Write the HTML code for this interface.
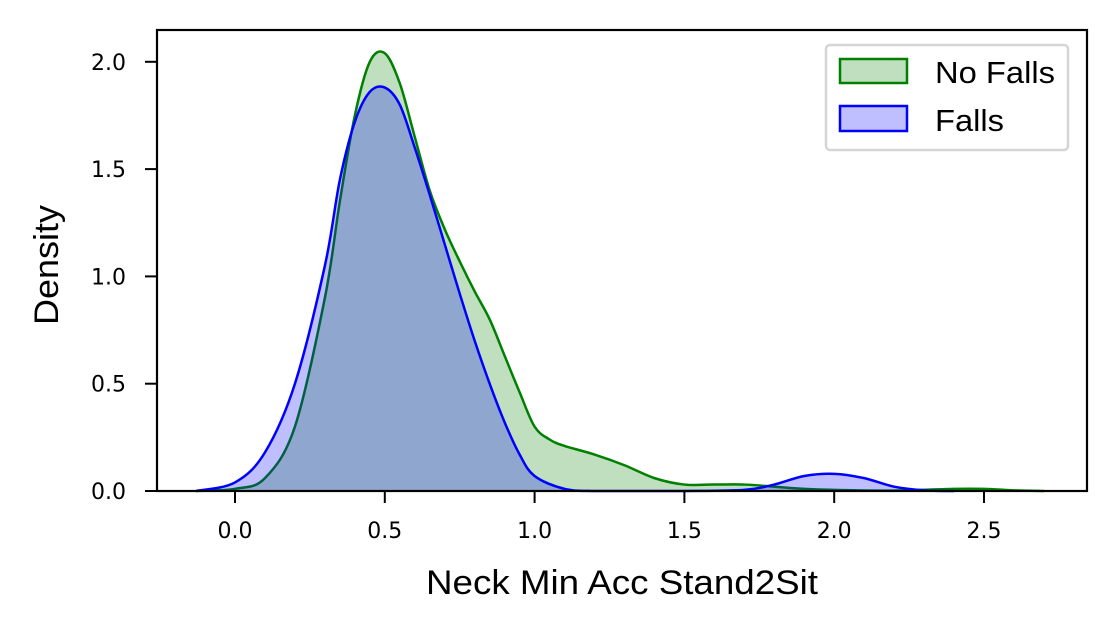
<!DOCTYPE html>
<html><head><meta charset="utf-8"><style>
body{margin:0;background:#fff;}
svg{display:block;font-family:"Liberation Sans",sans-serif;}
.tk{font-family:"DejaVu Sans",sans-serif;}
</style></head><body>
<svg width="1116" height="629" viewBox="0 0 1116 629">
<g id="plot"></g>
<g id="axes"></g>
<g>
<rect x="826" y="45" width="242" height="105" rx="4" fill="#fff" stroke="#d5d5d5" stroke-width="2.5"/>
<rect x="840" y="59" width="67" height="24" fill="rgba(0,128,0,0.25)" stroke="green" stroke-width="2.5"/>
<text x="935" y="83" font-size="31" textLength="120" lengthAdjust="spacingAndGlyphs">No Falls</text>
<rect x="840" y="106" width="67" height="25" fill="rgba(0,0,255,0.25)" stroke="blue" stroke-width="2.5"/>
<text x="935" y="131" font-size="31" textLength="69" lengthAdjust="spacingAndGlyphs">Falls</text>
</g>
</svg>
<script>
const xNoFalls=[-0.13,0,0.1,0.2,0.3,0.35,0.4,0.45,0.5,0.55,0.6,0.65,0.7,0.75,0.8,0.85,0.9,0.95,1.0,1.05,1.1,1.2,1.3,1.4,1.5,1.6,1.7,1.8,1.9,2.0,2.2,2.4,2.5,2.6,2.7];
const yNoFalls=[0,0.01,0.06,0.3,0.9,1.35,1.75,2.0,2.04,1.9,1.65,1.4,1.22,1.07,0.93,0.8,0.63,0.46,0.3,0.24,0.21,0.17,0.12,0.06,0.03,0.03,0.03,0.02,0.01,0.005,0.002,0.01,0.01,0.003,0];
const xFalls=[-0.13,0,0.1,0.2,0.3,0.35,0.4,0.45,0.5,0.55,0.6,0.65,0.7,0.75,0.8,0.85,0.9,0.95,1.0,1.1,1.2,1.5,1.7,1.8,1.9,2.0,2.1,2.2,2.3,2.4];
const yFalls=[0,0.04,0.18,0.5,1.05,1.45,1.72,1.86,1.88,1.8,1.6,1.38,1.15,0.92,0.7,0.5,0.32,0.17,0.07,0.01,0,0,0.005,0.03,0.07,0.08,0.06,0.02,0.003,0];
const xTicks=[0,0.5,1.0,1.5,2.0,2.5];
const xTickLabels=["0.0","0.5","1.0","1.5","2.0","2.5"];
const yTicks=[0,0.5,1.0,1.5,2.0];
const yTickLabels=["0.0","0.5","1.0","1.5","2.0"];
const L=157,R=1087,T=30,B=491;
const sx=v=>235+v*299.6, sy=v=>491-v*214.6;
const NS="http://www.w3.org/2000/svg";
function mk(tag,attrs,parent){const e=document.createElementNS(NS,tag);for(const k in attrs)e.setAttribute(k,attrs[k]);parent.appendChild(e);return e;}
function path(xs,ys){const p=xs.map((x,i)=>[sx(x),sy(ys[i])]);let d=`M${p[0][0]},${p[0][1]}`;
for(let i=0;i<p.length-1;i++){const p0=p[i-1]||p[i],p1=p[i],p2=p[i+1],p3=p[i+2]||p2;
let c1y=p1[1]+(p2[1]-p0[1])/6,c2y=p2[1]-(p3[1]-p1[1])/6;c1y=Math.min(c1y,B);c2y=Math.min(c2y,B);
d+=` C${p1[0]+(p2[0]-p0[0])/6},${c1y} ${p2[0]-(p3[0]-p1[0])/6},${c2y} ${p2[0]},${p2[1]}`;}return d;}
const plot=document.getElementById('plot');
function series(xs,ys,fill,stroke,name){
const d=path(xs,ys);
const a=mk('path',{d:d+` L${sx(xs[xs.length-1])},${B} L${sx(xs[0])},${B} Z`,fill:fill,stroke:'none'},plot);


const l=mk('path',{d:d,fill:'none',stroke:stroke,'stroke-width':2.5},plot);

}
series(xNoFalls,yNoFalls,'rgba(0,128,0,0.25)','green','no-falls');
series(xFalls,yFalls,'rgba(0,0,255,0.25)','blue','falls');
const ax=document.getElementById('axes');
const fr=mk('rect',{x:L,y:T,width:R-L,height:B-T,fill:'none',stroke:'#000','stroke-width':2.2},ax);


xTicks.forEach((v,i)=>{mk('line',{x1:sx(v),x2:sx(v),y1:B,y2:B+12,stroke:'#000','stroke-width':2},ax);
const t=mk('text',{x:sx(v),y:B+47,'font-size':22,'text-anchor':'middle',class:'tk'},ax);t.textContent=xTickLabels[i];

});
yTicks.forEach((v,i)=>{mk('line',{x1:L-12,x2:L,y1:sy(v),y2:sy(v),stroke:'#000','stroke-width':2},ax);
const t=mk('text',{x:L-31,y:sy(v)+8,'font-size':22,'text-anchor':'end',class:'tk'},ax);t.textContent=yTickLabels[i];

});
const xt=mk('text',{x:622,y:594,'font-size':34,'text-anchor':'middle',textLength:392,lengthAdjust:'spacingAndGlyphs'},ax);xt.textContent='Neck Min Acc Stand2Sit';


const yt=mk('text',{x:0,y:0,'font-size':34,'text-anchor':'middle',textLength:120,lengthAdjust:'spacingAndGlyphs',transform:'translate(58,265) rotate(-90)'},ax);yt.textContent='Density';


</script>
</body></html>
